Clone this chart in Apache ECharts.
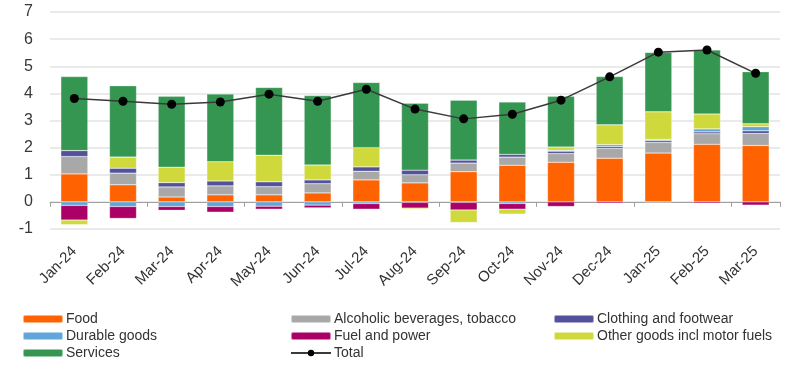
<!DOCTYPE html>
<html><head><meta charset="utf-8">
<script src="https://cdn.jsdelivr.net/npm/echarts@6/dist/echarts.min.js"></script>
<style>html,body{margin:0;padding:0;background:#fff}#c{width:800px;height:375px}</style>
</head><body><div id="c"></div>
<script>
const categories = ['Jan-24','Feb-24','Mar-24','Apr-24','May-24','Jun-24','Jul-24','Aug-24','Sep-24','Oct-24','Nov-24','Dec-24','Jan-25','Feb-25','Mar-25'];
const food     = [1.03, 0.63, 0.18, 0.26, 0.26, 0.33, 0.81, 0.70, 1.11, 1.35, 1.46, 1.61, 1.80, 2.12, 2.08];
const alcohol  = [0.64, 0.43, 0.37, 0.33, 0.30, 0.34, 0.32, 0.30, 0.32, 0.30, 0.32, 0.36, 0.39, 0.39, 0.44];
const clothing = [0.22, 0.18, 0.16, 0.18, 0.18, 0.14, 0.16, 0.17, 0.11, 0.10, 0.09, 0.07, 0.07, 0.07, 0.10];
const durable  = [-0.13, -0.17, -0.17, -0.17, -0.16, -0.12, -0.06, -0.02, -0.02, -0.06, 0.03, 0.07, 0.04, 0.11, 0.15];
const fuel     = [-0.54, -0.44, -0.14, -0.21, -0.11, -0.10, -0.21, -0.21, -0.28, -0.21, -0.17, -0.05, -0.01, -0.05, -0.12];
const other    = [-0.17, 0.41, 0.57, 0.71, 0.98, 0.55, 0.71, -0.04, -0.46, -0.18, 0.12, 0.73, 1.02, 0.55, 0.11];
const services = [2.73, 2.63, 2.61, 2.50, 2.50, 2.56, 2.40, 2.47, 2.21, 1.93, 1.87, 1.78, 2.19, 2.36, 1.92];
const total    = [3.81, 3.71, 3.60, 3.68, 3.97, 3.71, 4.15, 3.42, 3.06, 3.23, 3.75, 4.61, 5.52, 5.60, 4.74];
const yTicks = [-1, 7, 1];

const FONT = 'Liberation Sans, Arial, sans-serif';
const chart = echarts.init(document.getElementById('c'), null, {renderer: 'canvas'});
function bar(name, data, color) {
  return {name, type: 'bar', stack: 'a', data, barWidth: 27,
    itemStyle: {color, borderColor: 'rgba(255,255,255,0.5)', borderWidth: 0.5}};
}
const legendBase = {orient: 'vertical', top: 312, itemWidth: 40, itemHeight: 8, itemGap: 3,
  textStyle: {fontFamily: FONT, fontSize: 14, color: '#333', padding: [0,0,0,-2]}, padding: 0};
chart.setOption({
  animation: false,
  textStyle: {fontFamily: FONT},
  grid: {left: 50, right: 20, top: 12, bottom: 146, containLabel: false},
  legend: [
    Object.assign({}, legendBase, {left: 22, data: ['Food', 'Durable goods', 'Services']}),
    Object.assign({}, legendBase, {left: 290, data: ['Alcoholic beverages, tobacco', 'Fuel and power', 'Total']}),
    Object.assign({}, legendBase, {left: 553, data: ['Clothing and footwear', 'Other goods incl motor fuels']})
  ],
  xAxis: [
    {type: 'category', data: categories, position: 'bottom',
     axisLine: {onZero: true, lineStyle: {color: '#a0a0a0', width: 1}},
     axisTick: {show: true, alignWithLabel: false, length: 5, lineStyle: {color: '#a0a0a0'}},
     axisLabel: {show: false}},
    {type: 'category', data: categories, position: 'bottom',
     axisLine: {show: false, onZero: false}, axisTick: {show: false},
     axisLabel: {rotate: 45, fontSize: 15, color: '#333', margin: 20, fontFamily: FONT}}
  ],
  yAxis: {type: 'value', min: yTicks[0], max: yTicks[1], interval: yTicks[2],
    axisLine: {show: false}, axisTick: {show: false},
    axisLabel: {fontSize: 16, color: '#383838', margin: 17, fontFamily: FONT},
    splitLine: {lineStyle: {color: '#e3e3e3', width: 1.5}}},
  series: [
    bar('Food', food, '#FF6200'),
    bar('Alcoholic beverages, tobacco', alcohol, '#A8A8A8'),
    bar('Clothing and footwear', clothing, '#525199'),
    bar('Durable goods', durable, '#60A6DA'),
    bar('Fuel and power', fuel, '#AB0066'),
    bar('Other goods incl motor fuels', other, '#D0D93C'),
    bar('Services', services, '#349651'),
    {name: 'Total', type: 'line', data: total, symbol: 'circle', symbolSize: 9, z: 10,
     lineStyle: {color: '#3a3a3a', width: 1.5}, itemStyle: {color: '#000'}}
  ]
});
</script></body></html>
